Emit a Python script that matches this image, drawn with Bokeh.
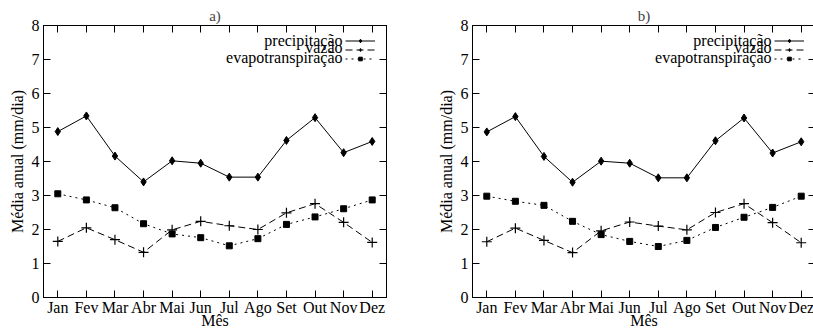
from bokeh.plotting import figure
from bokeh.layouts import row
from bokeh.models import (LinearAxis, CategoricalAxis, Legend, LegendItem,
                          FixedTicker, Range1d, FactorRange, Label)
from bokeh.embed import file_html
from bokeh.resources import INLINE

months = ["Jan", "Fev", "Mar", "Abr", "Mai", "Jun", "Jul", "Ago", "Set", "Out", "Nov", "Dez"]
y_ticks = [0, 1, 2, 3, 4, 5, 6, 7, 8]

precip_a = [4.88, 5.34, 4.16, 3.40, 4.02, 3.95, 3.54, 3.54, 4.62, 5.29, 4.26, 4.59]
vazao_a = [1.65, 2.05, 1.70, 1.33, 1.99, 2.24, 2.11, 2.00, 2.49, 2.76, 2.21, 1.62]
evapo_a = [3.05, 2.87, 2.64, 2.17, 1.87, 1.76, 1.52, 1.73, 2.15, 2.37, 2.61, 2.87]

precip_b = [4.87, 5.32, 4.15, 3.39, 4.01, 3.95, 3.52, 3.52, 4.61, 5.28, 4.25, 4.58]
vazao_b = [1.64, 2.04, 1.68, 1.32, 1.96, 2.22, 2.10, 1.99, 2.50, 2.76, 2.20, 1.61]
evapo_b = [2.98, 2.83, 2.71, 2.24, 1.85, 1.65, 1.50, 1.68, 2.06, 2.36, 2.65, 2.98]

series_names = ["precipitação", "vazão", "evapotranspiração"]
titles = ["a)", "b)"]

FONT = "Liberation Serif"
FS = "16px"


def style_axis(ax, labels=True):
    ax.axis_line_color = "black"
    ax.major_tick_in = 7
    ax.major_tick_out = 0
    ax.minor_tick_line_color = None
    ax.major_tick_line_color = "black"
    ax.major_label_text_font = FONT
    ax.major_label_text_color = "black"
    if labels:
        ax.major_label_text_font_size = FS
    else:
        ax.major_label_text_font_size = "1px"
        ax.major_label_text_color = None
        ax.major_label_standoff = 0


def make(title, precip, vazao, evapo, border_left, border_right):
    p = figure(x_range=FactorRange(*months), y_range=Range1d(0, 8),
               frame_width=343, frame_height=272,
               min_border_left=border_left, min_border_top=25, min_border_right=border_right,
               min_border_bottom=0,
               output_backend="svg", toolbar_location=None, title=title)
    p.title.text_font = FONT
    p.title.text_font_size = "15px"
    p.title.text_font_style = "normal"
    p.title.align = "center"
    p.title.standoff = 4
    p.title.offset = 0
    p.outline_line_color = "black"
    p.outline_line_width = 1
    p.xgrid.visible = False
    p.ygrid.visible = False

    p.yaxis.ticker = FixedTicker(ticks=y_ticks)
    style_axis(p.xaxis[0])
    style_axis(p.yaxis[0])
    p.xaxis.major_label_standoff = 1
    p.yaxis.major_label_standoff = 4
    p.xaxis.axis_label = "Mês"
    p.yaxis.axis_label = "Média anual (mm/dia)"
    for ax in (p.xaxis[0], p.yaxis[0]):
        ax.axis_label_text_font = FONT
        ax.axis_label_text_font_style = "normal"
        ax.axis_label_text_color = "black"
        ax.axis_label_text_font_size = FS
    p.xaxis.axis_label_standoff = -7
    p.yaxis.axis_label_standoff = 3

    ry = LinearAxis(ticker=FixedTicker(ticks=y_ticks))
    style_axis(ry, labels=False)
    p.add_layout(ry, "right")
    tx = CategoricalAxis()
    style_axis(tx, labels=False)
    p.add_layout(tx, "above")

    l1 = p.line(months, precip, line_color="black", line_width=1)
    m1 = p.scatter(months, precip, marker="diamond", size=8, color="black")
    l2 = p.line(months, vazao, line_color="black", line_width=1, line_dash="7 4")
    m2 = p.scatter(months, vazao, marker="cross", size=10, color="black", line_width=1.2)
    l3 = p.line(months, evapo, line_color="black", line_width=1, line_dash="2 4")
    m3 = p.scatter(months, evapo, marker="square", size=6, color="black")

    # key samples only; key texts are drawn right-aligned to their left (gnuplot style)
    legend = Legend(items=[
        LegendItem(label=" ", renderers=[l1, m1]),
        LegendItem(label=" ", renderers=[l2, m2]),
        LegendItem(label=" ", renderers=[l3, m3]),
    ], location=(302, 234))
    legend.label_text_font = FONT
    legend.label_text_font_size = "10px"
    legend.glyph_width = 30
    legend.glyph_height = 9
    legend.label_height = 9
    legend.label_width = 0
    legend.label_standoff = 0
    legend.spacing = 0
    legend.padding = 0
    legend.margin = 0
    legend.border_line_color = None
    legend.background_fill_alpha = 0
    p.add_layout(legend, "center")

    for name, yy in zip(series_names, [257, 250, 240]):
        p.add_layout(Label(x=299, y=yy, x_units="screen", y_units="screen", text=name,
                           text_align="right", text_baseline="middle",
                           text_font=FONT, text_font_size=FS, text_color="black"))
    return p


p1 = make(titles[0], precip_a, vazao_a, evapo_a, 43, 48)
p2 = make(titles[1], precip_b, vazao_b, evapo_b, 35, 1)
layout = row(p1, p2)

open("out.html", "w").write(file_html(layout, INLINE))
